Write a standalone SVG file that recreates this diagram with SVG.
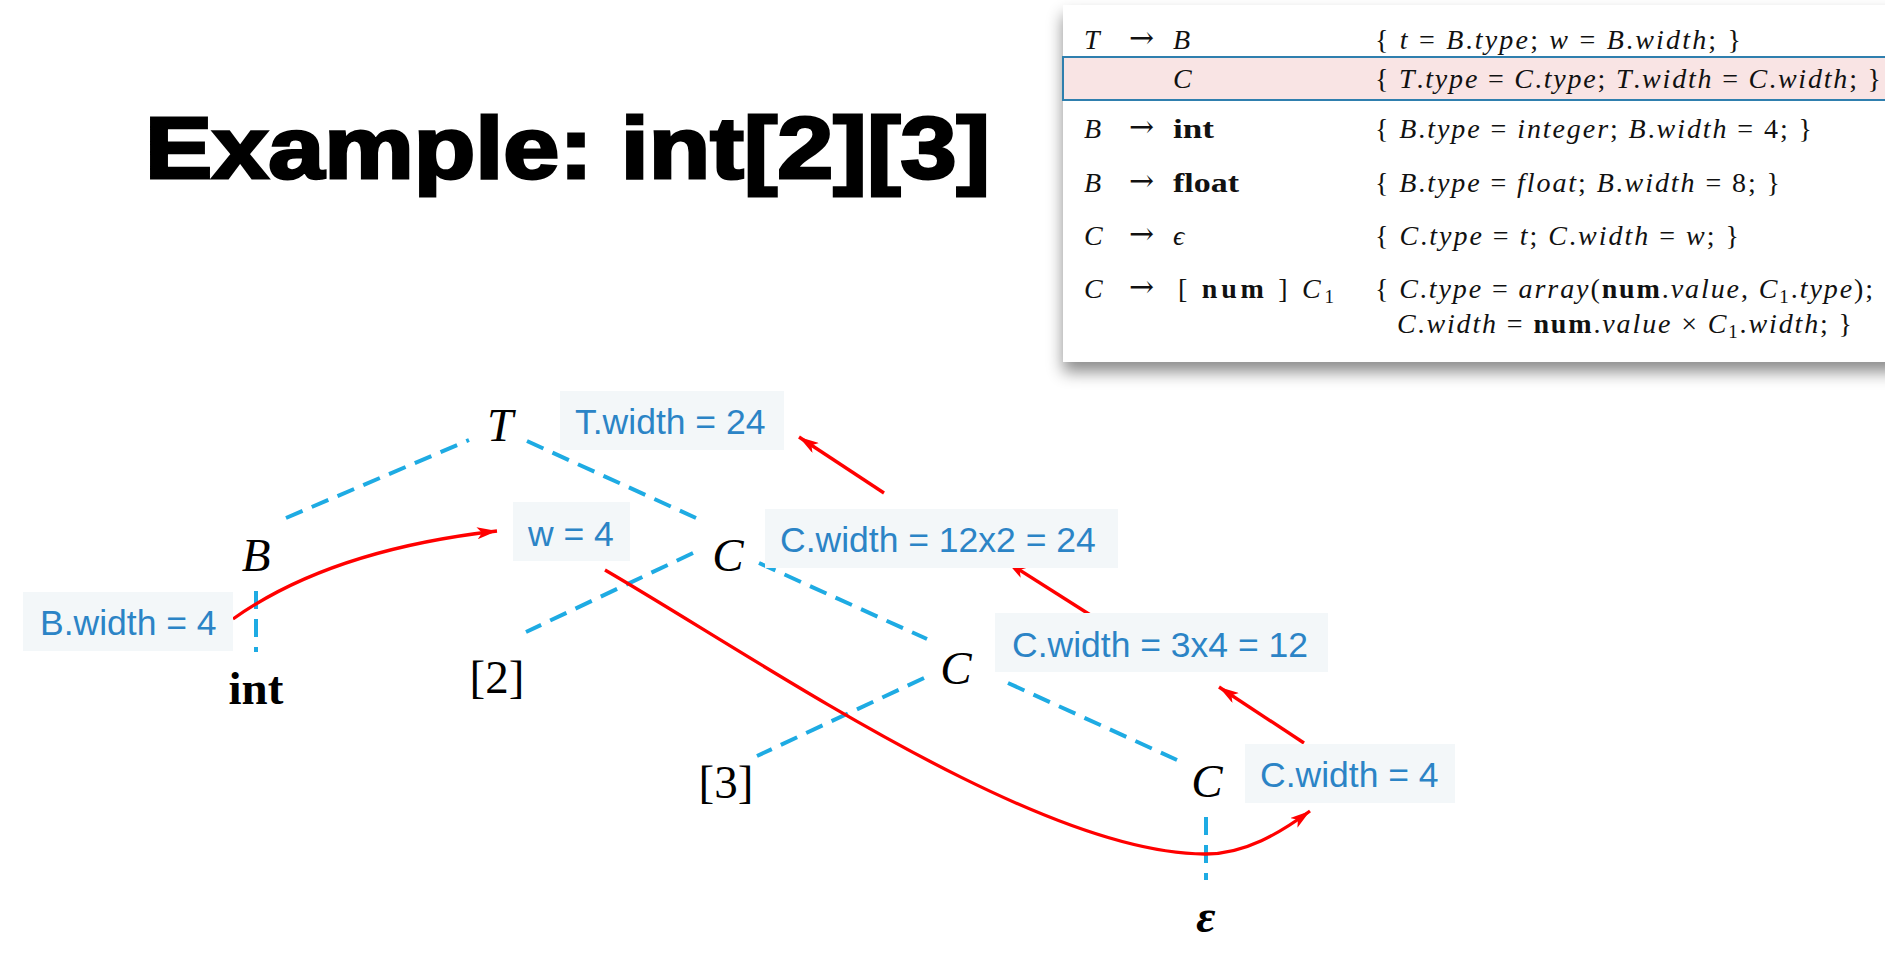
<svg xmlns="http://www.w3.org/2000/svg" width="1885" height="972" viewBox="0 0 1885 972">
<defs>
<filter id="shadow" x="-5%" y="-10%" width="110%" height="135%">
<feDropShadow dx="0" dy="10" stdDeviation="8" flood-color="#000" flood-opacity="0.45"/>
</filter>
<marker id="ah" markerUnits="userSpaceOnUse" markerWidth="22" markerHeight="12" refX="20" refY="6" orient="auto">
<path d="M0,0 L20,6 L0,12 L5,6 z" fill="#ff0000"/>
</marker>
</defs>
<style>
.tm{font-family:"Liberation Serif","Times New Roman","DejaVu Serif",serif;font-size:28px;fill:#111}
.ar{font-family:"DejaVu Serif","DejaVu Sans",serif;font-size:30px;fill:#111}
.i{font-style:italic}
.b{font-weight:bold;font-style:normal}
.sub{font-size:19px;font-style:normal}
.node{font-family:"Liberation Serif","Times New Roman",serif;font-size:47px;fill:#000;text-anchor:middle}
.lbl rect{fill:#f3f7f9}
.lbl text{font-family:"Liberation Sans",Arial,sans-serif;font-size:35.5px;fill:#2b84c6}
.edge{stroke:#1eabe3;stroke-width:4;stroke-dasharray:18 10;fill:none}
.red{stroke:#ff0000;stroke-width:3.3;fill:none;marker-end:url(#ah)}
</style>
<rect width="1885" height="972" fill="#fff"/>

<g id="title">
<text x="145" y="178" font-family="'Liberation Sans',Arial,sans-serif" font-weight="bold" font-size="88" fill="#000" stroke="#000" stroke-width="3" textLength="845" lengthAdjust="spacingAndGlyphs">Example: int[2][3]</text>
</g>

<g id="grammar-table">
<rect x="1063" y="5" width="840" height="357" fill="#fff" filter="url(#shadow)"/>
<rect x="1063" y="57" width="840" height="43" fill="#f9e4e4" stroke="#2f7fae" stroke-width="2"/>
<!-- row 1 -->
<text class="tm i" x="1084" y="49">T</text>
<text class="ar" x="1129" y="48">→</text>
<text class="tm i" x="1173" y="49">B</text>
<text class="tm" x="1375" y="49" textLength="366" lengthAdjust="spacing">{ <tspan class="i">t</tspan> = <tspan class="i">B</tspan>.<tspan class="i">type</tspan>; <tspan class="i">w</tspan> = <tspan class="i">B</tspan>.<tspan class="i">width</tspan>; }</text>
<!-- row 2 -->
<text class="tm i" x="1173" y="88">C</text>
<text class="tm" x="1375" y="88" textLength="506" lengthAdjust="spacing">{ <tspan class="i">T</tspan>.<tspan class="i">type</tspan> = <tspan class="i">C</tspan>.<tspan class="i">type</tspan>; <tspan class="i">T</tspan>.<tspan class="i">width</tspan> = <tspan class="i">C</tspan>.<tspan class="i">width</tspan>; }</text>
<!-- row 3 -->
<text class="tm i" x="1084" y="138">B</text>
<text class="ar" x="1129" y="137">→</text>
<text class="tm b" x="1173" y="138" textLength="41" lengthAdjust="spacingAndGlyphs">int</text>
<text class="tm" x="1375" y="138" textLength="437" lengthAdjust="spacing">{ <tspan class="i">B</tspan>.<tspan class="i">type</tspan> = <tspan class="i">integer</tspan>; <tspan class="i">B</tspan>.<tspan class="i">width</tspan> = 4; }</text>
<!-- row 4 -->
<text class="tm i" x="1084" y="192">B</text>
<text class="ar" x="1129" y="191">→</text>
<text class="tm b" x="1173" y="192" textLength="66" lengthAdjust="spacingAndGlyphs">float</text>
<text class="tm" x="1375" y="192" textLength="405" lengthAdjust="spacing">{ <tspan class="i">B</tspan>.<tspan class="i">type</tspan> = <tspan class="i">float</tspan>; <tspan class="i">B</tspan>.<tspan class="i">width</tspan> = 8; }</text>
<!-- row 5 -->
<text class="tm i" x="1084" y="245">C</text>
<text class="ar" x="1129" y="244">→</text>
<text class="tm i" x="1173" y="245">ϵ</text>
<text class="tm" x="1375" y="245" textLength="364" lengthAdjust="spacing">{ <tspan class="i">C</tspan>.<tspan class="i">type</tspan> = <tspan class="i">t</tspan>; <tspan class="i">C</tspan>.<tspan class="i">width</tspan> = <tspan class="i">w</tspan>; }</text>
<!-- row 6 -->
<text class="tm i" x="1084" y="298">C</text>
<text class="ar" x="1129" y="297">→</text>
<text class="tm" x="1178" y="298" textLength="156" lengthAdjust="spacing">[ <tspan class="b">num</tspan> ] <tspan class="i">C</tspan><tspan class="sub" dy="5">1</tspan></text>
<text class="tm" x="1375" y="298" textLength="498" lengthAdjust="spacing">{ <tspan class="i">C</tspan>.<tspan class="i">type</tspan> = <tspan class="i">array</tspan>(<tspan class="b">num</tspan>.<tspan class="i">value</tspan>, <tspan class="i">C</tspan><tspan class="sub" dy="5">1</tspan><tspan dy="-5">.</tspan><tspan class="i">type</tspan>);</text>
<text class="tm" x="1397" y="333" textLength="455" lengthAdjust="spacing"><tspan class="i">C</tspan>.<tspan class="i">width</tspan> = <tspan class="b">num</tspan>.<tspan class="i">value</tspan> × <tspan class="i">C</tspan><tspan class="sub" dy="5">1</tspan><tspan dy="-5">.</tspan><tspan class="i">width</tspan>; }</text>
</g>

<g id="connectors">
<line class="edge" x1="286" y1="518" x2="469" y2="440"/>
<line class="edge" x1="527" y1="441" x2="696" y2="518"/>
<line class="edge" x1="693" y1="553" x2="526" y2="632"/>
<line class="edge" x1="759" y1="563" x2="927" y2="639"/>
<line class="edge" x1="924" y1="678" x2="757" y2="756"/>
<line class="edge" x1="1008" y1="683" x2="1177" y2="760"/>
<line class="edge" x1="256" y1="591" x2="256" y2="652"/>
<line class="edge" x1="1206" y1="817" x2="1206" y2="880"/>
<path class="red" d="M233,619 Q330,550 497,531"/>
<path class="red" d="M605,570 C760,660 1040,855 1206,854 C1245,854 1280,833 1310,811"/>
<line class="red" x1="1304" y1="743" x2="1219" y2="687"/>
<line class="red" x1="1092" y1="616" x2="1007" y2="562"/>
<line class="red" x1="884" y1="493" x2="799" y2="437"/>
</g>

<g id="node-T"><text class="node" x="500" y="441" font-style="italic">T</text></g>
<g id="node-B"><text class="node" x="256" y="571" font-style="italic">B</text></g>
<g id="node-int"><text class="node" x="256" y="704" font-weight="bold">int</text></g>
<g id="node-C1"><text class="node" x="728" y="571" font-style="italic">C</text></g>
<g id="node-2"><text class="node" x="497" y="693">[2]</text></g>
<g id="node-C2"><text class="node" x="956" y="684" font-style="italic">C</text></g>
<g id="node-3"><text class="node" x="726" y="798">[3]</text></g>
<g id="node-C3"><text class="node" x="1207" y="797" font-style="italic">C</text></g>
<g id="node-eps"><text class="node" x="1206" y="932" font-style="italic" font-weight="bold">ε</text></g>

<g id="label-Bwidth" class="lbl"><rect x="23" y="592" width="210" height="59"/><text x="40" y="635">B.width = 4</text></g>
<g id="label-Twidth" class="lbl"><rect x="560" y="391" width="224" height="59"/><text x="575" y="434">T.width = 24</text></g>
<g id="label-w" class="lbl"><rect x="513" y="502" width="117" height="59"/><text x="528" y="546">w = 4</text></g>
<g id="label-C1width" class="lbl"><rect x="765" y="509" width="353" height="59"/><text x="780" y="552">C.width = 12x2 = 24</text></g>
<g id="label-C2width" class="lbl"><rect x="995" y="613" width="333" height="59"/><text x="1012" y="657">C.width = 3x4 = 12</text></g>
<g id="label-C3width" class="lbl"><rect x="1245" y="744" width="210" height="59"/><text x="1260" y="787">C.width = 4</text></g>
</svg>
